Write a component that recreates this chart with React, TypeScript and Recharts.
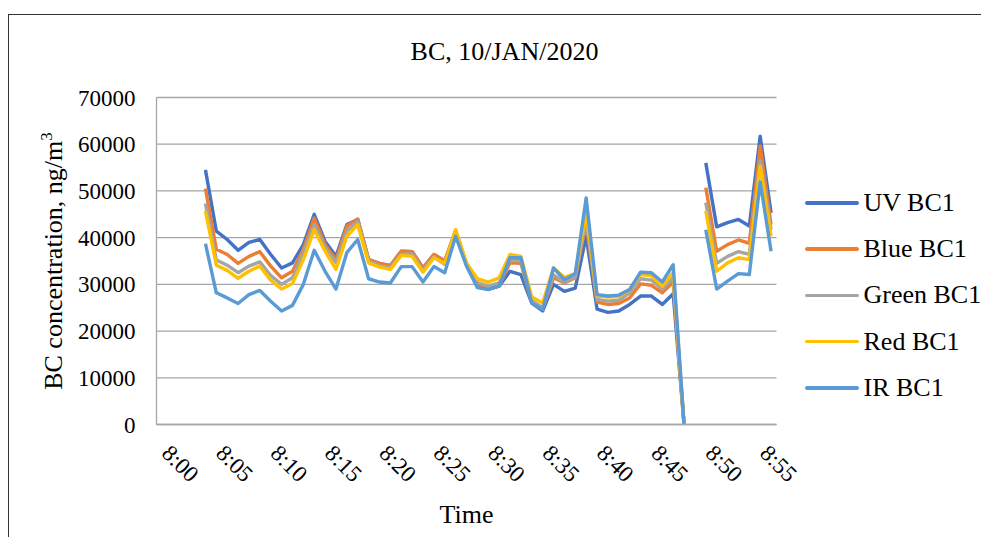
import { LineChart, Line, XAxis, YAxis, CartesianGrid, Legend } from "recharts";

const FONT = '"Liberation Serif", "Times New Roman", serif';

const times = [
  "8:00", "8:01", "8:02", "8:03", "8:04", "8:05", "8:06", "8:07", "8:08", "8:09",
  "8:10", "8:11", "8:12", "8:13", "8:14", "8:15", "8:16", "8:17", "8:18", "8:19",
  "8:20", "8:21", "8:22", "8:23", "8:24", "8:25", "8:26", "8:27", "8:28", "8:29",
  "8:30", "8:31", "8:32", "8:33", "8:34", "8:35", "8:36", "8:37", "8:38", "8:39",
  "8:40", "8:41", "8:42", "8:43", "8:44", "8:45", "8:46", "8:47", "8:48", "8:49",
  "8:50", "8:51", "8:52", "8:53", "8:54", "8:55", "8:56",
];

const uv = [
  null, null, null, null, 54500, 41400, 39600, 37300, 39000, 39600,
  36400, 33500, 34600, 38500, 45000, 39200, 36000, 42800, 43900, 35300,
  34500, 34000, 37100, 37000, 33500, 36400, 35000, 41400, 34200, 29800,
  28900, 29600, 32800, 32100, 26000, 24300, 30000, 28500, 29200, 40300,
  24700, 24000, 24300, 25700, 27500, 27500, 25700, 28000, 0, null,
  56000, 42300, 43200, 43900, 42500, 61700, 45300,
];

const blue = [
  null, null, null, null, 50500, 37500, 36400, 34500, 36000, 37000,
  33900, 31400, 32800, 37500, 44200, 38500, 35300, 42500, 44000, 35300,
  34500, 34000, 37100, 37000, 33500, 36400, 35000, 41500, 34300, 30000,
  29000, 29700, 34600, 34500, 26200, 24800, 31400, 30300, 31400, 43200,
  26200, 25700, 25900, 27100, 30100, 29800, 28200, 30500, 0, null,
  50700, 37100, 38500, 39500, 38800, 59600, 42800,
];

const green = [
  null, null, null, null, 47300, 35200, 34100, 32500, 33900, 34800,
  31900, 30000, 31400, 36800, 42800, 37800, 34600, 41400, 43500, 35000,
  34000, 33600, 36500, 36500, 33000, 35900, 34300, 41400, 34200, 30400,
  29600, 30300, 35300, 35000, 26500, 25000, 32000, 30500, 31600, 43900,
  26800, 26400, 26600, 28200, 31200, 30900, 29000, 31400, 0, null,
  47500, 34500, 36000, 37000, 36400, 56400, 41700,
];

const red = [
  null, null, null, null, 45700, 34100, 33000, 31300, 32800, 33900,
  30900, 29000, 30200, 35300, 41700, 37100, 33200, 40300, 42800, 34600,
  33700, 33200, 36200, 36000, 32600, 35700, 34500, 41700, 34600, 31200,
  30500, 31400, 36400, 36000, 27300, 26000, 33500, 31500, 32300, 45300,
  27500, 27300, 27400, 28900, 32100, 31900, 29600, 32500, 0, null,
  45700, 32800, 34600, 35700, 35300, 55300, 40300,
];

const ir = [
  null, null, null, null, 38700, 28200, 27100, 25900, 27800, 28700,
  26400, 24300, 25500, 30000, 37300, 32800, 29000, 36800, 39600, 31200,
  30500, 30300, 33800, 33800, 30500, 33800, 32500, 40300, 33900, 29300,
  28900, 29600, 35700, 35700, 26000, 24600, 33500, 31000, 32300, 48500,
  27800, 27500, 27700, 28900, 32600, 32500, 30500, 34200, 0, null,
  41700, 29000, 30700, 32300, 32100, 51900, 37100,
];

const yTicks = [0, 10000, 20000, 30000, 40000, 50000, 60000, 70000];

const series = [
  { key: "uv", name: "UV BC1", color: "#4472C4", values: uv },
  { key: "blue", name: "Blue BC1", color: "#ED7D31", values: blue },
  { key: "green", name: "Green BC1", color: "#A5A5A5", values: green },
  { key: "red", name: "Red BC1", color: "#FFC000", values: red },
  { key: "ir", name: "IR BC1", color: "#5B9BD5", values: ir },
];

const data = times.map((t, i) => {
  const row: Record<string, string | number | null> = { time: t };
  series.forEach((s) => {
    row[s.key] = s.values[i];
  });
  return row;
});

// legend keeps the series order (recharts would sort it by name)
function renderLegend() {
  return (
    <div style={{ fontFamily: FONT, fontSize: 26, color: "#000", whiteSpace: "nowrap" }}>
      {series.map((s) => (
        <div key={s.key} style={{ display: "flex", alignItems: "center", height: 46.3 }}>
          <div style={{ width: 54, height: 3.5, background: s.color, borderRadius: 2 }} />
          <span style={{ marginLeft: 5, lineHeight: 1 }}>{s.name}</span>
        </div>
      ))}
    </div>
  );
}

function XTick({ x, y, payload }: any) {
  const px = x - 1.5;
  const py = y + 30;
  return (
    <text
      x={px}
      y={py}
      transform={`rotate(45, ${px}, ${py})`}
      textAnchor="start"
      fontFamily={FONT}
      fontSize={23}
      fill="#000"
    >
      {payload.value}
    </text>
  );
}

function YTick({ x, y, payload }: any) {
  return (
    <text x={x} y={y} dy={8} textAnchor="end" fontFamily={FONT} fontSize={23} fill="#000">
      {payload.value}
    </text>
  );
}

function YTitle({ viewBox }: any) {
  const x = viewBox.x + 5.5;
  const y = viewBox.y + viewBox.height / 2;
  return (
    <text
      x={x}
      y={y}
      transform={`rotate(-90, ${x}, ${y})`}
      textAnchor="middle"
      fontFamily={FONT}
      fontSize={26}
      fill="#000"
    >
      <tspan>BC concentration, ng/m</tspan>
      <tspan dy={-10} fontSize={17}>3</tspan>
    </text>
  );
}

function XTitle({ viewBox }: any) {
  return (
    <text
      x={viewBox.x + viewBox.width / 2}
      y={508}
      textAnchor="middle"
      fontFamily={FONT}
      fontSize={26}
      fill="#000"
    >
      Time
    </text>
  );
}

export default function App() {
  return (
    <div
      style={{
        marginTop: 6,
        width: 981,
        height: 523,
        boxSizing: "border-box",
        borderTop: "1.5px solid #333",
        borderLeft: "1.5px solid #333",
        overflow: "hidden",
        position: "relative",
        background: "#fff",
        fontFamily: FONT,
      }}
    >
      <LineChart
        width={975}
        height={515}
        data={data}
        margin={{ top: 82.5, right: 207.5, bottom: 45.5, left: 47.5 }}
      >
        <text x={495.5} y={45} textAnchor="middle" fontFamily={FONT} fontSize={26} fill="#000">
          BC, 10/JAN/2020
        </text>
        <CartesianGrid vertical={false} stroke="#A6A6A6" strokeWidth={1.3} />
        <XAxis
          dataKey="time"
          interval={4}
          tickLine={false}
          tickSize={0}
          tickMargin={0}
          height={60}
          padding={{ left: 5.44, right: 5.44 }}
          axisLine={{ stroke: "#A6A6A6", strokeWidth: 1.3 }}
          tick={<XTick />}
          label={<XTitle />}
        />
        <YAxis
          domain={[0, 70000]}
          ticks={yTicks}
          width={100}
          tickLine={false}
          tickSize={0}
          tickMargin={21}
          axisLine={{ stroke: "#A6A6A6", strokeWidth: 1.3 }}
          tick={<YTick />}
          label={<YTitle />}
        />
        <Legend
          layout="vertical"
          align="center"
          verticalAlign="middle"
          wrapperStyle={{ left: 795.5, top: 164.7, width: 180 }}
          content={renderLegend}
        />
        {series.map((s) => (
          <Line
            key={s.key}
            type="linear"
            dataKey={s.key}
            name={s.name}
            stroke={s.color}
            strokeWidth={3.4}
            strokeLinejoin="round"
            dot={false}
            activeDot={false}
            isAnimationActive={false}
          />
        ))}
      </LineChart>
    </div>
  );
}
